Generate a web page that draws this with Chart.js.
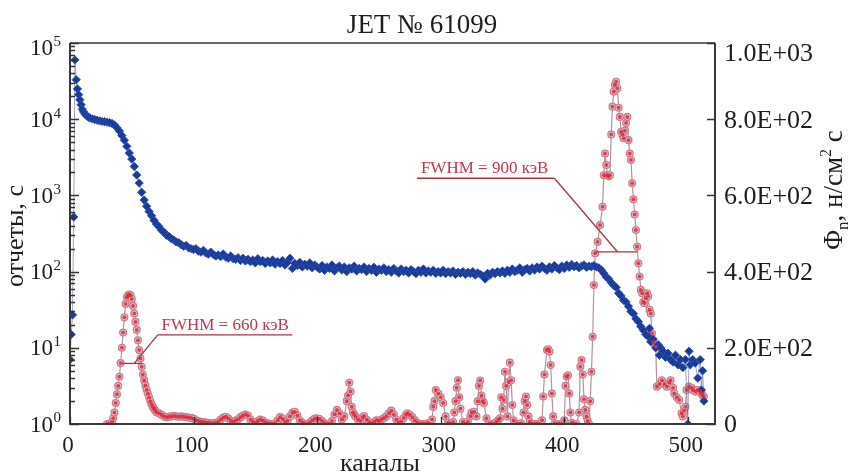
<!DOCTYPE html>
<html>
<head>
<meta charset="utf-8">
<script src="https://cdn.jsdelivr.net/npm/chart.js@4.4.1/dist/chart.umd.min.js"></script>
<style>
  html, body { margin: 0; padding: 0; background: #fff; }
</style>
</head>
<body>
<canvas id="spectrum" width="848" height="473"></canvas>
<script>
// blue: counts per channel (left, log axis)
const blueChannels = [
  0,1,2,3,4,5,6,7,8,9,10,11,12,13,14,15,16,
  18,20,22,24,26,28,30,32,34,36,38,40,42,44,46,48,50,52,54,56,58,60,62,64,66,68,70,72,74,76,78,80,82,84,86,88,90,92,94,96,98,
  100,102,104,106,108,110,112,114,116,118,120,122,124,126,128,130,132,134,136,138,140,142,144,146,148,150,
  152,154,156,158,160,162,164,166,168,170,172,174,176,178,180,182,184,186,188,190,192,194,196,198,
  200,202,204,206,208,210,212,214,216,218,220,222,224,226,228,230,232,234,236,238,
  240,242,244,246,248,250,252,254,256,258,260,262,264,266,268,270,272,274,276,278,
  280,282,284,286,288,290,292,294,296,298,300,302,304,306,308,310,312,314,316,318,
  320,322,324,326,328,330,332,334,336,338,340,342,344,346,348,350,352,354,356,358,
  360,362,364,366,368,370,372,374,376,378,380,382,384,386,388,390,392,394,396,398,
  400,402,404,406,408,410,412,414,416,418,420,422,424,426,428,
  430,432,434,436,438,440,442,444,446,448,450,452,454,456,458,460,462,464,466,468,
  469,470,472,474,476,477,478,480,482,484,486,488,490,492,494,496,498,500,501,502,
  504,506,508,510,511,512,513
];
const blueCounts = [
  7,15,27,520,60000,33000,25000,21000,18000,15500,13500,12500,11800,11300,10900,10600,10400,
  10100,9900,9700,9500,9350,9250,9150,9000,8800,8400,7700,7000,6100,5300,4400,3600,3000,2400,1850,1450,1100,870,720,615,540,470,420,390,350,330,300,290,270,260,245,240,225,215,220,205,200,
  195,200,185,180,190,175,170,180,168,160,165,158,170,155,150,160,148,145,152,140,150,138,145,135,142,130,
  148,135,140,128,138,130,142,125,135,128,140,122,132,150,110,128,120,132,115,125,118,130,112,122,
  115,108,120,104,115,110,122,102,112,118,105,115,100,112,108,118,102,110,106,115,
  100,110,104,114,98,108,104,112,100,106,98,110,102,96,108,100,104,96,106,100,
  94,104,98,108,96,102,98,104,95,100,96,104,94,100,96,102,92,98,95,100,
  92,98,94,100,90,96,92,88,80,95,90,98,94,100,96,102,95,104,98,108,
  100,104,112,98,106,110,102,112,105,115,108,118,110,104,115,108,120,112,106,118,
  110,122,114,124,116,120,112,118,122,114,118,116,120,115,112,
  105,95,85,80,72,66,62,52,48,42,40,35,30,28,24,22,19,17,15,14,
  18,12,13,10,11,8,10,9,7.5,8.5,7,6.5,8,6,7,5.5,7,1,9,6,
  7,6.3,4,7,2.8,5,2
];

// red: neutron flux per channel (right, linear axis)
const redChannels = [
  30,32,34,35,36,37,38,39,40,41,42,43,44,45,46,47,48,49,50,51,
  52,53,54,55,56,57,58,59,60,61,62,63,64,65,66,67,68,69,70,
  72,74,76,78,80,82,84,86,88,90,92,94,96,98,100,102,104,106,108,110,
  112,114,116,118,120,122,124,126,128,130,132,134,136,138,140,142,144,146,148,150,
  152,154,156,158,160,162,164,166,168,170,172,174,176,178,180,182,184,186,188,190,
  192,194,196,198,200,202,204,206,208,210,212,214,216,218,220,222,
  224,225,226,227,228,229,230,231,233,235,237,238,240,242,244,246,248,250,252,254,
  256,258,260,262,264,266,268,270,272,273,275,277,279,281,283,285,287,289,291,293,
  294,295,296,298,300,302,304,306,308,310,311,312,313,314,315,316,318,320,322,324,
  325,327,329,330,331,332,333,334,335,337,339,341,343,345,347,348,349,350,351,352,
  353,354,355,356,357,358,359,361,363,365,367,368,369,370,371,372,374,376,378,380,
  382,383,384,386,387,388,389,390,391,392,394,396,398,400,401,402,403,404,405,406,
  408,410,412,413,414,415,416,417,418,419,420,421,422,423,424,425,427,429,431,432,
  433,434,435,436,437,438,439,440,441,442,443,444,445,446,447,448,449,450,451,452,
  453,454,455,456,457,458,459,460,461,462,463,464,465,466,467,468,469,470,471,472,
  474,475,477,479,481,483,485,486,488,489,491,493,495,496,497,498,499,501,503,504,
  506,508,510,511,512,513
];
const redFlux = [
  0,0,5,15,30,55,78,100,124,160,200,240,280,315,332,338,340,338,328,310,
  290,268,247,220,194,172,150,130,115,102,90,80,70,60,52,45,40,35,31,
  28,24,20,18,19,20,21,20,19,20,19,18,17,16,14,10,8,6,5,4,
  3,2,2,3,6,12,17,19,15,8,6,9,12,18,22,25,22,12,5,3,
  8,12,9,4,2,0,0,2,10,18,14,6,8,20,30,32,22,10,3,0,
  0,4,10,14,15,13,8,2,0,0,8,25,37,28,12,20,
  60,75,108,85,45,30,25,20,12,8,18,21,12,4,2,5,10,8,12,15,
  20,28,35,25,12,4,6,15,25,28,24,18,10,3,0,0,0,2,0,12,
  45,60,89,80,70,55,20,3,0,5,30,60,95,115,70,40,5,0,5,20,
  30,32,20,60,100,114,75,60,55,15,0,0,0,5,12,15,70,40,63,137,
  100,20,110,161,115,50,10,0,0,2,30,60,72,50,20,5,0,0,0,0,
  10,72,130,194,196,190,155,80,20,0,0,0,0,10,100,125,128,80,30,3,
  0,0,30,150,168,130,65,37,20,8,0,60,137,229,365,448,478,522,570,653,
  710,680,653,650,653,760,833,872,890,898,881,830,806,767,760,750,770,790,806,745,
  710,693,632,590,550,509,465,422,387,352,343,320,317,330,343,335,300,290,238,215,
  203,98,105,115,105,98,108,115,95,80,70,63,28,20,35,45,89,98,95,89,
  85,89,84,80,75,72
];

const xTicks = [0, 100, 200, 300, 400, 500];
const countDecades = [0, 1, 2, 3, 4, 5];
const fluxTicks = [0, 200, 400, 600, 800, 1000];
const fluxTickLabels = ['0', '2.0E+02', '4.0E+02', '6.0E+02', '8.0E+02', '1.0E+03'];

// FWHM markers: half-height line, leader and text shelf (channel / flux units)
const fwhmNotes = [
  { text: 'FWHM = 660 кэВ', half: 159, from: 42.3, to: 58.5, foot: 52, shelfY: 234, shelfFrom: 71, shelfTo: 180, textAt: 74 },
  { text: 'FWHM = 900 кэВ', half: 452, from: 425.5, to: 459.2, foot: 443, shelfY: 645, shelfFrom: 280.7, shelfTo: 392, textAt: 284 }
];

const serif = '"Liberation Serif", "Times New Roman", serif';
Chart.defaults.font.family = serif;

const bluePoints = blueChannels.map((c, i) => ({ x: c, y: blueCounts[i] }));
const redPoints = redChannels.map((c, i) => ({ x: c, y: redFlux[i] }));

const decorations = {
  id: 'decorations',
  afterDraw(chart) {
    const { ctx, chartArea: a, scales } = chart;
    const xs = scales.x, ys = scales.y, y2 = scales.y2;
    ctx.save();

    // frame
    ctx.strokeStyle = '#6a6a6a';
    ctx.lineWidth = 2;
    ctx.beginPath();
    ctx.moveTo(a.left, a.top); ctx.lineTo(a.right, a.top);
    ctx.stroke();
    ctx.strokeStyle = '#3a3a3a';
    ctx.beginPath();
    ctx.moveTo(a.left, a.top); ctx.lineTo(a.left, a.bottom);
    ctx.lineTo(a.right, a.bottom); ctx.lineTo(a.right, a.top);
    ctx.stroke();

    // inward ticks
    ctx.lineWidth = 1.3;
    ctx.strokeStyle = '#333';
    ctx.beginPath();
    countDecades.forEach(d => {
      for (let m = 1; m <= 9; m++) {
        if (d === 5 && m > 1) break;
        const y = Math.round(ys.getPixelForValue(m * Math.pow(10, d))) + 0.5;
        const len = m === 1 ? 9 : 5;
        ctx.moveTo(a.left, y); ctx.lineTo(a.left + len, y);
      }
    });
    fluxTicks.forEach(v => {
      const y = Math.round(y2.getPixelForValue(v)) + 0.5;
      ctx.moveTo(a.right, y); ctx.lineTo(a.right - 8, y);
    });
    xTicks.forEach(v => {
      const x = Math.round(xs.getPixelForValue(v)) + 0.5;
      ctx.moveTo(x, a.bottom); ctx.lineTo(x, a.bottom - 7);
    });
    ctx.stroke();

    ctx.fillStyle = '#1e1e1e';
    // left tick labels 10^n
    countDecades.forEach(d => {
      const y = ys.getPixelForValue(Math.pow(10, d));
      const cy = Math.max(y + 1.5, 49);
      ctx.font = '23px ' + serif;
      ctx.textAlign = 'right';
      ctx.textBaseline = 'middle';
      ctx.fillText('10', 53, cy);
      ctx.font = '15px ' + serif;
      ctx.textAlign = 'left';
      ctx.fillText(String(d), 53.5, cy - 7);
    });
    // right tick labels
    ctx.font = '26px ' + serif;
    ctx.textAlign = 'left';
    ctx.textBaseline = 'middle';
    fluxTicks.forEach((v, i) => {
      const y = y2.getPixelForValue(v);
      ctx.fillText(fluxTickLabels[i], 724, Math.max(y + 1.5, 54));
    });
    // bottom tick labels
    ctx.font = '23px ' + serif;
    ctx.textAlign = 'center';
    xTicks.forEach(v => {
      ctx.fillText(String(v), xs.getPixelForValue(v) - 2, 446);
    });

    // titles
    ctx.font = '27px ' + serif;
    ctx.textBaseline = 'alphabetic';
    ctx.fillText('JET № 61099', 422, 33);
    ctx.font = '26px ' + serif;
    ctx.fillText('каналы', 380, 471);

    ctx.save();
    ctx.translate(23, 236);
    ctx.rotate(-Math.PI / 2);
    ctx.textAlign = 'center';
    ctx.fillText('отчеты, с', 0, 0);
    ctx.restore();

    ctx.save();
    ctx.translate(842, 190);
    ctx.rotate(-Math.PI / 2);
    const parts = [
      { t: 'Φ', size: 27, dy: 0 },
      { t: 'n', size: 17, dy: 6 },
      { t: ', н/см', size: 27, dy: 0 },
      { t: '2', size: 16, dy: -11 },
      { t: ' с', size: 27, dy: 0 }
    ];
    let total = 0;
    parts.forEach(p => { ctx.font = p.size + 'px ' + serif; p.w = ctx.measureText(p.t).width; total += p.w; });
    let px = -total / 2;
    ctx.textAlign = 'left';
    parts.forEach(p => { ctx.font = p.size + 'px ' + serif; ctx.fillText(p.t, px, p.dy); px += p.w; });
    ctx.restore();

    // FWHM annotations
    ctx.strokeStyle = '#a8343f';
    ctx.lineWidth = 1.3;
    ctx.font = '17px ' + serif;
    ctx.textAlign = 'left';
    ctx.fillStyle = '#b83a4c';
    fwhmNotes.forEach(n => {
      const hy = y2.getPixelForValue(n.half);
      const sy = y2.getPixelForValue(n.shelfY);
      ctx.beginPath();
      ctx.moveTo(xs.getPixelForValue(n.from), hy);
      ctx.lineTo(xs.getPixelForValue(n.to), hy);
      ctx.stroke();
      const footX = xs.getPixelForValue(n.foot);
      const kneeX = n.shelfFrom < n.foot ? xs.getPixelForValue(n.shelfTo) : xs.getPixelForValue(n.shelfFrom);
      ctx.beginPath();
      ctx.moveTo(footX, hy);
      ctx.lineTo(kneeX, sy);
      ctx.stroke();
      ctx.beginPath();
      ctx.moveTo(xs.getPixelForValue(n.shelfFrom), sy);
      ctx.lineTo(xs.getPixelForValue(n.shelfTo), sy);
      ctx.stroke();
      ctx.fillText(n.text, xs.getPixelForValue(n.textAt), sy - 5);
    });
    ctx.restore();
  }
};

new Chart(document.getElementById('spectrum'), {
  type: 'scatter',
  data: {
    datasets: [
      {
        label: 'flux dots',
        data: redPoints,
        yAxisID: 'y2',
        showLine: false,
        pointRadius: 2,
        pointBorderWidth: 0,
        pointBackgroundColor: 'rgba(226,40,52,0.85)',
        order: 0
      },
      {
        label: 'counts',
        data: bluePoints,
        yAxisID: 'y',
        showLine: true,
        borderColor: 'rgba(95,105,145,0.6)',
        borderWidth: 1,
        pointStyle: 'rectRot',
        pointRadius: 4.2,
        pointBorderWidth: 0.8,
        pointBorderColor: '#2d4fb6',
        pointBackgroundColor: '#1b3a98',
        order: 1
      },
      {
        label: 'flux',
        data: redPoints,
        yAxisID: 'y2',
        showLine: true,
        borderColor: '#b8909c',
        borderWidth: 1.2,
        pointRadius: 3.4,
        pointBorderWidth: 1.3,
        pointBorderColor: '#cc7c90',
        pointBackgroundColor: '#d6cbd4',
        order: 2
      }
    ]
  },
  options: {
    responsive: false,
    animation: false,
    devicePixelRatio: 1,
    layout: { padding: { top: 43, left: 0, right: 0, bottom: 0 } },
    plugins: { legend: { display: false }, tooltip: { enabled: false } },
    scales: {
      x: {
        type: 'linear', min: 0, max: 522,
        grid: { display: false, drawTicks: false },
        border: { display: false },
        ticks: { display: false },
        afterFit(s) { s.height = 49; }
      },
      y: {
        type: 'logarithmic', position: 'left', min: 1, max: 100000,
        grid: { display: false, drawTicks: false },
        border: { display: false },
        ticks: { display: false },
        afterFit(s) { s.width = 70; }
      },
      y2: {
        type: 'linear', position: 'right', min: 0, max: 1000,
        grid: { display: false, drawTicks: false },
        border: { display: false },
        ticks: { display: false },
        afterFit(s) { s.width = 133; }
      }
    }
  },
  plugins: [decorations]
});
</script>
</body>
</html>
